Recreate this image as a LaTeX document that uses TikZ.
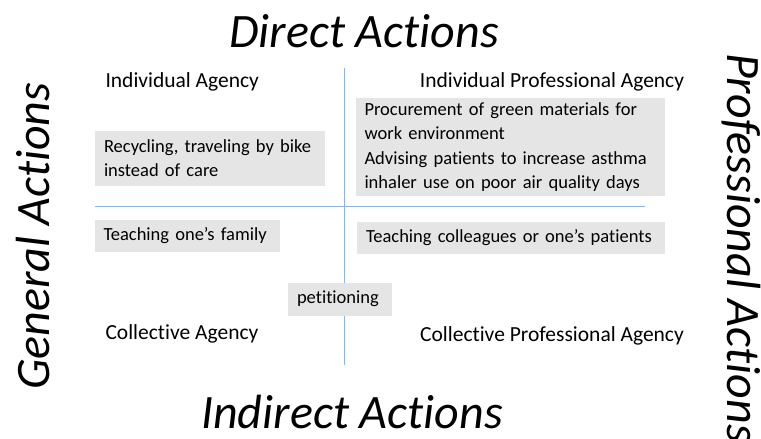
\documentclass[tikz,border=0pt]{standalone}
\usepackage{fontspec}
\setmainfont{Carlito}[Ligatures=CommonOff]
\definecolor{axisblue}{RGB}{142,180,227}
\tikzset{
  actbox/.style={fill=black!10, align=left, inner xsep=9pt, inner ysep=5pt, font=\fontsize{18.5}{24.3}\selectfont},
  agency/.style={font=\fontsize{21.5}{26}\selectfont},
  axislabel/.style={font=\fontsize{48}{54}\selectfont\itshape}
}
\begin{document}
\begin{tikzpicture}[x=1pt,y=-1pt]
            \useasboundingbox (0,0) rectangle (761,439);
            \draw[axisblue] (344,68) -- (344,365);
            \draw[axisblue] (95,206) -- (645,206);
            \node[axislabel] (direct) at (364,31) {Direct Actions};
            \node[axislabel] (indirect) at (352,412) {Indirect Actions};
            \node[axislabel, rotate=90] (general) at (33,236) {General Actions};
            \node[axislabel, rotate=-90] (prof) at (741,248) {Professional Actions};
            \node[agency, anchor=west] (indiv) at (102,82) {Individual Agency};
            \node[agency] (indivprof) at (552,82) {Individual Professional Agency};
            \node[agency, anchor=west] (coll) at (102,334) {Collective Agency};
            \node[agency] (collprof) at (552,336) {Collective Professional Agency};
            \node[actbox, minimum height=55pt, text width=212pt] (recycle) at (210,158) {Recycling, traveling by bike\\instead of care};
            \node[actbox, text width=291pt] (procure) at (510,147) {Procurement of green materials for\\work environment\\Advising patients to increase asthma\\inhaler use on poor air quality days};
            \node[actbox, minimum height=32pt, text width=167pt] (family) at (187,236) {Teaching one’s family};
            \node[actbox, minimum height=32pt, text width=290pt] (colleagues) at (511,238) {Teaching colleagues or one’s patients};
            \node[actbox, minimum height=33pt, text width=86pt] (petition) at (340,299) {petitioning};
        \end{tikzpicture}
\end{document}
